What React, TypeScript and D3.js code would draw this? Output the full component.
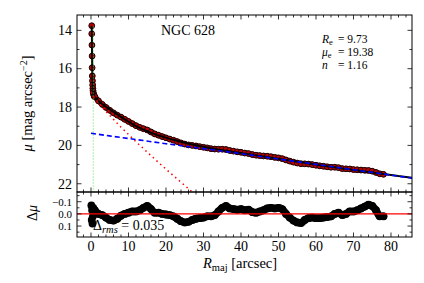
import React from "react";
import * as d3 from "d3";

// ---- data ----
const coreModelR = [0.2, 0.25, 0.3, 0.35, 0.4, 0.5, 0.6, 0.8];
const coreModelMu = [13.76, 14.5, 15.4, 16.2, 16.65, 17.0, 17.2, 17.38];

const profileR = [
  1, 2, 3, 4, 5, 6, 7, 8, 9, 10, 11, 12, 13, 14, 15, 16, 17, 18, 19, 20,
  21, 22, 23, 24, 25, 26, 27, 28, 29, 30, 31, 32, 33, 34, 35, 36, 37, 38, 39, 40,
  41, 42, 43, 44, 45, 46, 47, 48, 49, 50, 51, 52, 53, 54, 55, 56, 57, 58, 59, 60,
  61, 62, 63, 64, 65, 66, 67, 68, 69, 70, 71, 72, 73, 74, 75, 76, 77, 78,
];
const profileMu = [
  17.48, 17.68, 17.85, 17.99, 18.12, 18.25, 18.38, 18.51, 18.64, 18.76,
  18.88, 18.99, 19.09, 19.18, 19.26, 19.34, 19.41, 19.48, 19.54, 19.6,
  19.66, 19.71, 19.76, 19.81, 19.86, 19.91, 19.95, 19.99, 20.03, 20.07,
  20.11, 20.15, 20.18, 20.22, 20.25, 20.28, 20.31, 20.34, 20.37, 20.4,
  20.43, 20.46, 20.49, 20.52, 20.55, 20.58, 20.61, 20.64, 20.67, 20.7,
  20.73, 20.76, 20.79, 20.82, 20.85, 20.88, 20.91, 20.94, 20.97, 21.0,
  21.03, 21.06, 21.09, 21.12, 21.14, 21.17, 21.2, 21.22, 21.25, 21.28,
  21.3, 21.33, 21.36, 21.38, 21.41, 21.44, 21.46, 21.49,
];
const residual = [
  -0.03, 0.0, 0.01, 0.03, 0.05, 0.055, 0.04, 0.015, 0.0, -0.01,
  -0.02, -0.02, -0.03, -0.05, -0.065, -0.04, -0.01, -0.01, 0.0, 0.005,
  0.01, 0.02, 0.04, 0.06, 0.07, 0.065, 0.05, 0.04, 0.035, 0.03,
  0.02, 0.02, 0.01, -0.02, -0.05, -0.065, -0.045, -0.04, -0.035, -0.04,
  -0.03, -0.035, -0.015, -0.01, -0.02, -0.03, -0.045, -0.05, -0.045, -0.05,
  -0.04, 0.0, 0.03, 0.055, 0.07, 0.075, 0.05, 0.035, 0.03, 0.035,
  0.035, 0.03, 0.025, 0.02, 0.0, -0.01, 0.01, 0.0, -0.02, -0.02,
  -0.03, -0.045, -0.06, -0.075, -0.065, -0.03, 0.02, 0.02,
];
const outerR = [80, 82, 84, 86];
const outerMu = [21.54, 21.6, 21.65, 21.7];

const coreDataR = [0.2, 0.2, 0.25, 0.3, 0.3, 0.35, 0.4, 0.45, 0.5, 0.55, 0.6, 0.7, 0.8, 0.9];
const coreDataMu = [13.76, 14.18, 14.77, 15.34, 15.95, 16.38, 16.63, 16.85, 17.03, 17.15, 17.25, 17.33, 17.4, 17.45];
const coreResR = [0.1, 0.2, 0.3, 0.4, 0.5, 0.6];
const coreRes = [-0.07, 0.05, -0.03, 0.08, 0.02, -0.05];

const bulgeR = [0, 1, 2, 4, 6, 8, 10, 12, 14, 16, 18, 20, 22, 24, 26, 28];
const bulgeMu = [17.22, 17.53, 17.77, 18.23, 18.64, 19.05, 19.43, 19.81, 20.17, 20.53, 20.89, 21.24, 21.58, 21.92, 22.26, 22.59];
const diskR = [0, 10, 20, 30, 40, 50, 60, 70, 80, 86];
const diskMu = [19.37, 19.64, 19.91, 20.17, 20.43, 20.71, 20.99, 21.27, 21.55, 21.72];
const psfR = [0.6, 0.6];
const psfMu = [13.8, 22.6];

const xMajor = [0, 10, 20, 30, 40, 50, 60, 70, 80];
const xMinor = [-2, 2, 4, 6, 8, 12, 14, 16, 18, 22, 24, 26, 28, 32, 34, 36, 38, 42, 44, 46, 48, 52, 54, 56, 58, 62, 64, 66, 68, 72, 74, 76, 78, 82, 84];
const yMajor = [14, 16, 18, 20, 22];
const yMinor = [15, 17, 19, 21];
const rMajor = [-0.1, 0.0, 0.1];
const rMinor = [-0.15, -0.05, 0.05, 0.15];
const rLabels = ["\u22120.1", "0.0", "0.1"];

const FONT = '"Liberation Serif", "DejaVu Serif", "Times New Roman", Times, serif';

export default function App() {
  const L = 77, R = 412, T = 15, M = 192, B = 237;
  const x = d3.scaleLinear().domain([-3.73, 85.6]).range([L, R]);
  const y = d3.scaleLinear().domain([13.2, 22.43]).range([T, M]);
  const yr = d3.scaleLinear().domain([-0.18, 0.19]).range([M, B]);

  const pts = (rs: number[], ms: number[]) => rs.map((r, i) => [r, ms[i]] as [number, number]);
  const line = d3.line<[number, number]>().x((d) => x(d[0])).y((d) => y(d[1]));
  const smooth = d3.line<[number, number]>().x((d) => x(d[0])).y((d) => y(d[1])).curve(d3.curveMonotoneX);
  const rline = d3.line<[number, number]>().x((d) => x(d[0])).y((d) => yr(d[1])).curve(d3.curveMonotoneX);

  const modelPts = [...pts(coreModelR, coreModelMu), ...pts(profileR, profileMu), ...pts(outerR, outerMu)];
  const profData = profileR.map((r, i) => [r, profileMu[i] + residual[i]] as [number, number]);
  const dataPts = [...pts(coreDataR, coreDataMu), ...profData];
  const profRes = pts(profileR, residual);
  const resPts = [...pts(coreResR, coreRes), ...profRes];

  const tickMaj = 4.5, tickMin = 2.5;

  return (
    <svg width={424} height={283} style={{ position: "absolute", left: 0, top: 0, background: "#fff", fontFamily: FONT }}>
      <defs>
        <clipPath id="cm"><rect x={L} y={T} width={R - L} height={M - T} /></clipPath>
        <clipPath id="cr"><rect x={L} y={M} width={R - L} height={B - M} /></clipPath>
      </defs>

      {/* main panel */}
      <g clipPath="url(#cm)">
        <path d={smooth(profData) || ""} fill="none" stroke="#2a0000" strokeWidth={5.5} strokeLinecap="round" />
        {dataPts.map((d, i) => (
          <circle key={"d" + i} cx={x(d[0])} cy={y(d[1])} r={2.9} fill="#c00000" stroke="#1a0000" strokeWidth={1} />
        ))}
        <path d={line(modelPts) || ""} fill="none" stroke="#000" strokeWidth={2} />
        <path d={line(pts(psfR, psfMu)) || ""} fill="none" stroke="#55dd55" strokeWidth={1} strokeDasharray="1,2" />
        <path d={smooth(pts(bulgeR, bulgeMu)) || ""} fill="none" stroke="#ff0000" strokeWidth={1.5} strokeDasharray="1.5,3.5" />
        <path d={smooth(pts(diskR, diskMu)) || ""} fill="none" stroke="#0000ff" strokeWidth={1.6} strokeDasharray="5,3" />
      </g>

      {/* residual panel */}
      <g clipPath="url(#cr)">
        <path d={rline(profRes) || ""} fill="none" stroke="#000" strokeWidth={7.5} strokeLinecap="round" strokeLinejoin="round" />
        {resPts.map((d, i) => (
          <circle key={"r" + i} cx={x(d[0])} cy={yr(d[1])} r={3.9} fill="#000" />
        ))}
        <line x1={L} x2={R} y1={yr(0)} y2={yr(0)} stroke="#ff0000" strokeWidth={1.3} />
      </g>

      {/* frames */}
      <rect x={L} y={T} width={R - L} height={M - T} fill="none" stroke="#000" strokeWidth={1} />
      <rect x={L} y={M} width={R - L} height={B - M} fill="none" stroke="#000" strokeWidth={1} />

      {/* x ticks on all horizontal edges */}
      {[...xMajor.map((v) => [v, tickMaj]), ...xMinor.map((v) => [v, tickMin])].map(([v, len], i) => (
        <g key={"xt" + i} stroke="#000" strokeWidth={0.8}>
          <line x1={x(v)} x2={x(v)} y1={T} y2={T + len} />
          <line x1={x(v)} x2={x(v)} y1={M} y2={M - len} />
          <line x1={x(v)} x2={x(v)} y1={M} y2={M + len} />
          <line x1={x(v)} x2={x(v)} y1={B} y2={B - len} />
        </g>
      ))}
      {/* main y ticks */}
      {[...yMajor.map((v) => [v, tickMaj]), ...yMinor.map((v) => [v, tickMin])].map(([v, len], i) => (
        <g key={"yt" + i} stroke="#000" strokeWidth={0.8}>
          <line x1={L} x2={L + len} y1={y(v)} y2={y(v)} />
          <line x1={R} x2={R - len} y1={y(v)} y2={y(v)} />
        </g>
      ))}
      {/* residual y ticks */}
      {[...rMajor.map((v) => [v, tickMaj]), ...rMinor.map((v) => [v, tickMin])].map(([v, len], i) => (
        <g key={"rt" + i} stroke="#000" strokeWidth={0.8}>
          <line x1={L} x2={L + len} y1={yr(v)} y2={yr(v)} />
          <line x1={R} x2={R - len} y1={yr(v)} y2={yr(v)} />
        </g>
      ))}

      {/* tick labels */}
      {yMajor.map((v) => (
        <text key={"yl" + v} x={L - 5} y={y(v) + 4.8} textAnchor="end" fontSize={14}>{v}</text>
      ))}
      {rMajor.map((v, i) => (
        <text key={"rl" + i} x={L - 5} y={yr(v) + 3.8} textAnchor="end" fontSize={11}>{rLabels[i]}</text>
      ))}
      {xMajor.map((v) => (
        <text key={"xl" + v} x={x(v)} y={251} textAnchor="middle" fontSize={14}>{v}</text>
      ))}

      {/* axis labels */}
      <text x={203} y={268} fontSize={14.5}>
        <tspan fontStyle="italic">R</tspan>
        <tspan fontSize={10.5} dy={3}>maj</tspan>
        <tspan dy={-3}> [arcsec]</tspan>
      </text>
      <text transform={`translate(32,${(T + M) / 2}) rotate(-90)`} textAnchor="middle" fontSize={14.5}>
        <tspan fontStyle="italic">μ</tspan>
        <tspan> [mag arcsec</tspan>
        <tspan fontSize={10} dy={-5}>−2</tspan>
        <tspan dy={5}>]</tspan>
      </text>
      <text transform={`translate(37,${yr(0) - 1}) rotate(-90)`} textAnchor="middle" fontSize={14}>
        <tspan>Δ</tspan><tspan fontStyle="italic">μ</tspan>
      </text>

      {/* annotations */}
      <text x={188} y={35} textAnchor="middle" fontSize={14}>NGC 628</text>
      <g fontSize={11.5}>
        <text x={322} y={43}>
          <tspan fontStyle="italic">R</tspan><tspan fontSize={8.5} dy={2}>e</tspan>
        </text>
        <text x={338} y={43}>= 9.73</text>
        <text x={322} y={56}>
          <tspan fontStyle="italic">μ</tspan><tspan fontSize={8.5} dy={2}>e</tspan>
        </text>
        <text x={338} y={56}>= 19.38</text>
        <text x={322} y={69} fontStyle="italic">n</text>
        <text x={338} y={69}>= 1.16</text>
      </g>
      <text x={93} y={230} fontSize={14}>
        <tspan>Δ</tspan>
        <tspan fontStyle="italic" fontSize={10.5} dy={2.5}>rms</tspan>
        <tspan dy={-2.5}> = 0.035</tspan>
      </text>
    </svg>
  );
}
